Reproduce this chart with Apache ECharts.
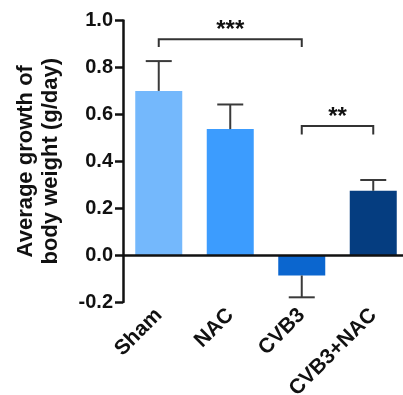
<!DOCTYPE html>
<html>
<head>
<meta charset="utf-8">
<script src="https://cdn.jsdelivr.net/npm/echarts@6/dist/echarts.min.js"></script>
<style>
  html, body { margin: 0; padding: 0; background: #fff; }
  #chart { width: 403px; height: 395px; }
</style>
</head>
<body>
<div id="chart"></div>
<script>
// 体重增长柱状图：均值 + 单侧 SEM 误差线 + 显著性括号
const groups = ['Sham', 'NAC', 'CVB3', 'CVB3+NAC'];
const means = [0.70, 0.537, -0.087, 0.274];
const sems = [0.127, 0.105, 0.093, 0.046];
const barColors = ['#74b8fc', '#3c9cfe', '#0b66cf', '#053d80'];

// 括号：[起始组, 结束组, 横线高度, 竖脚下端]
const brackets = [[0, 2, 0.92, 0.887], [2, 3, 0.55, 0.514]];
const bracketLabels = ['***', '**'];

const yTicks = { min: -0.2, max: 1.0, step: 0.2 };

const FONT = '"Liberation Sans", Arial, sans-serif';
const chart = echarts.init(document.getElementById('chart'));

chart.setOption({
  animation: false,
  grid: { left: 123, right: -6, top: 20.5, bottom: 93, containLabel: false, outerBoundsMode: 'none' },
  xAxis: {
    type: 'category',
    data: groups,
    axisLine: { show: false, onZero: false },
    axisTick: { show: false },
    axisLabel: {
      rotate: 45, margin: 10, interval: 0,
      color: '#111', fontFamily: FONT, fontWeight: 'bold', fontSize: 21,
    },
  },
  yAxis: {
    type: 'value',
    min: yTicks.min, max: yTicks.max, interval: yTicks.step,
    name: 'Average growth of\nbody weight (g/day)',
    nameLocation: 'middle', nameRotate: 90, nameGap: 60,
    nameTextStyle: { color: '#111', fontFamily: FONT, fontWeight: 'bold', fontSize: 22, lineHeight: 25 },
    axisLine: { show: true, lineStyle: { color: '#111', width: 2.5 } },
    axisTick: { show: true, length: 8, lineStyle: { color: '#111', width: 2.5 } },
    splitLine: { show: false },
    axisLabel: {
      margin: 10, color: '#111', fontFamily: FONT, fontWeight: 'bold', fontSize: 20,
      formatter: v => v.toFixed(1),
    },
  },
  series: [
    {
      type: 'bar',
      barWidth: 47,
      data: means.map((v, i) => ({ value: v, itemStyle: { color: barColors[i] } })),
      markLine: {
        silent: true, symbol: 'none',
        label: { show: false },
        lineStyle: { color: '#111', width: 2.5, type: 'solid' },
        data: [{ yAxis: 0 }],
      },
      z: 2,
    },
    {
      type: 'custom',
      data: means.map((m, i) => [i, m, sems[i]]),
      renderItem(params, api) {
        const i = api.value(0), m = api.value(1), e = api.value(2);
        const end = m >= 0 ? m + e : m - e;
        const p0 = api.coord([i, m]);
        const p1 = api.coord([i, end]);
        const half = 13;
        const style = { stroke: '#3a3a3a', lineWidth: 2 };
        return {
          type: 'group',
          children: [
            { type: 'line', shape: { x1: p0[0], y1: p0[1], x2: p1[0], y2: p1[1] }, style },
            { type: 'line', shape: { x1: p1[0] - half, y1: p1[1], x2: p1[0] + half, y2: p1[1] }, style },
          ],
        };
      },
      z: 3,
    },
    {
      type: 'custom',
      data: brackets,
      renderItem(params, api) {
        const a = api.value(0), b = api.value(1), top = api.value(2), leg = api.value(3);
        const pa = api.coord([a, top]), pb = api.coord([b, top]);
        const la = api.coord([a, leg]), lb = api.coord([b, leg]);
        const style = { stroke: '#333', lineWidth: 2, fill: null };
        return {
          type: 'group',
          children: [
            { type: 'polyline', shape: { points: [la, pa, pb, lb] }, style },
            {
              type: 'text',
              style: {
                x: (pa[0] + pb[0]) / 2, y: pa[1] - 9,
                text: bracketLabels[params.dataIndex],
                textAlign: 'center', textVerticalAlign: 'middle',
                font: 'bold 24px ' + FONT, fill: '#111',
              },
            },
          ],
        };
      },
      z: 3,
    },
  ],
});
</script>
</body>
</html>
